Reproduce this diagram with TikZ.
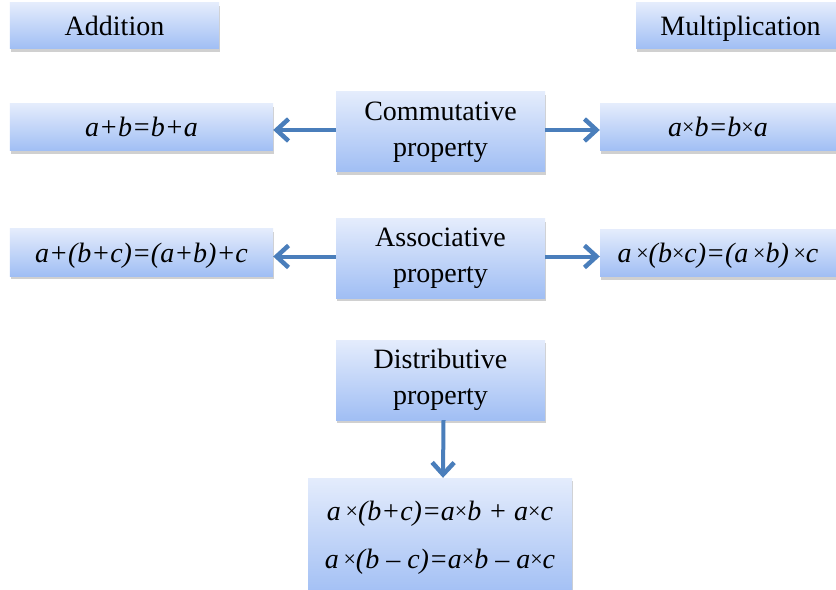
\documentclass[tikz,border=0pt]{standalone}
\usepackage{fontspec}
\setmainfont{Liberation Serif}
\usetikzlibrary{arrows.meta,shadows}
\definecolor{boxtop}{RGB}{228,236,252}
\definecolor{boxbot}{RGB}{160,190,244}
\definecolor{arrowblue}{RGB}{74,126,187}
\newcommand{\tm}{\raisebox{2.2bp}{\fontsize{22bp}{22bp}\selectfont\upshape ×}}
\tikzset{
  pbox/.style={rectangle, top color=boxtop, bottom color=boxbot, draw=none,
    drop shadow={shadow xshift=1bp, shadow yshift=-3bp, opacity=0.3, fill=black!60},
    font=\fontsize{28bp}{36bp}\selectfont, align=center, inner sep=0pt},
  onel/.style={text height=19bp, text depth=0bp},
  eqtext/.style={font=\fontsize{28bp}{34bp}\selectfont\itshape},
  conn/.style={draw=arrowblue, line width=4bp, -{Straight Barb[length=12bp,width=22bp,line width=4.5bp]}}
}
\begin{document}
\begin{tikzpicture}[x=1bp,y=-1bp]
\useasboundingbox (0,0) rectangle (836,590);
\clip (0,0) rectangle (836,590);
\fill[white] (0,0) rectangle (836,590);
% headers
\node[pbox, onel, minimum width=209bp, minimum height=46bp] (add) at (114.5,26) {Addition};
\node[pbox, onel, minimum width=209bp, minimum height=46bp] (mul) at (740.5,26) {Multiplication};
% commutative row
\node[pbox, minimum width=209bp, minimum height=80bp] (comm) at (440.5,132) {Commutative\\property};
\node[pbox, eqtext, onel, minimum width=263bp, minimum height=47bp] (leqa) at (141.5,127.5) {a+b=b+a};
\node[pbox, eqtext, onel, minimum width=236bp, minimum height=47bp] (reqa) at (718,127.5) {a\tm b=b\tm a};
% associative row
\node[pbox, minimum width=209bp, minimum height=79bp] (assoc) at (440.5,258.5) {Associative\\property};
\node[pbox, eqtext, onel, minimum width=263bp, minimum height=47bp] (leqb) at (141.5,252.5) {a+(b+c)=(a+b)+c};
\node[pbox, eqtext, onel, minimum width=236bp, minimum height=47bp] (reqb) at (718,253) {a\,\tm(b\tm c)=(a\,\tm b)\,\tm c};
% distributive
\node[pbox, minimum width=209bp, minimum height=80bp] (dist) at (440.5,380) {Distributive\\property};
\node[pbox, eqtext, minimum width=264bp, minimum height=120bp, font=\fontsize{28bp}{48bp}\selectfont\itshape] (deq) at (440,538) {a\,\tm(b+c)=a\tm b + a\tm c\\a\,\tm(b – c)=a\tm b – a\tm c};
% connectors
\draw[conn] ([yshift=2bp]comm.west) -- ([yshift=2bp]comm.west -| leqa.east);
\draw[conn] ([yshift=2bp]comm.east) -- ([yshift=2bp]comm.east -| reqa.west);
\draw[conn] ([yshift=2bp]assoc.west) -- ([yshift=2bp]assoc.west -| leqb.east);
\draw[conn] ([yshift=2bp]assoc.east) -- ([yshift=2bp]assoc.east -| reqb.west);
\draw[conn] ([xshift=3bp]dist.south) -- ([xshift=3bp]deq.north);
\end{tikzpicture}
\end{document}
